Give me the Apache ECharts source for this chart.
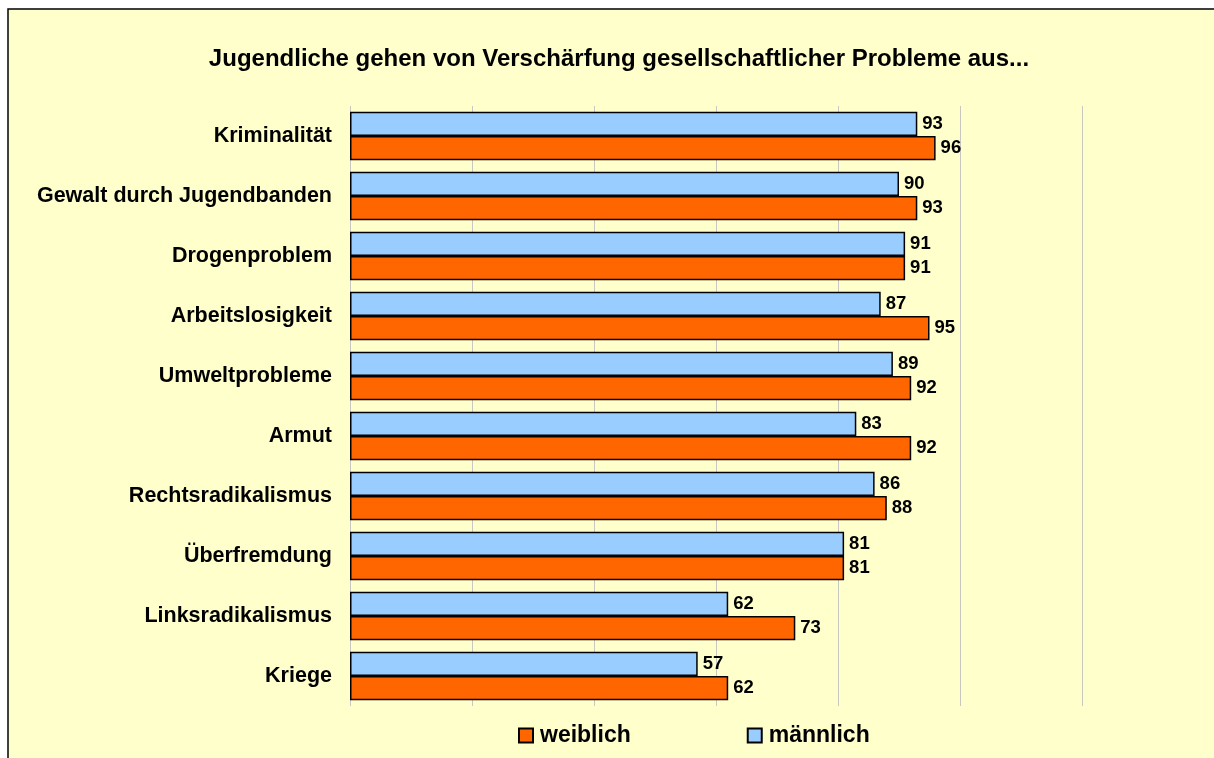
<!DOCTYPE html>
<html>
<head>
<meta charset="utf-8">
<script src="https://cdn.jsdelivr.net/npm/echarts@6/dist/echarts.min.js"></script>
<style>
  html, body { margin: 0; padding: 0; background: #fff; }
  #chart { width: 1214px; height: 758px; }
</style>
</head>
<body>
<div id="chart"></div>
<script>
const categories = ['Kriminalität', 'Gewalt durch Jugendbanden', 'Drogenproblem', 'Arbeitslosigkeit',
  'Umweltprobleme', 'Armut', 'Rechtsradikalismus', 'Überfremdung', 'Linksradikalismus', 'Kriege']
const weiblich = [96, 93, 91, 95, 92, 92, 88, 81, 73, 62]
const maennlich = [93, 90, 91, 87, 89, 83, 86, 81, 62, 57]

const font = '"Liberation Sans", Arial, sans-serif'
const chart = echarts.init(document.getElementById('chart'))

const labelStyle = {
  show: true,
  position: 'right',
  distance: 5,
  color: '#000',
  fontWeight: 'bold',
  fontSize: 18.5,
  fontFamily: font
}

chart.setOption({
  backgroundColor: '#fff',
  animation: false,
  graphic: [{
    type: 'rect',
    shape: { x: 8, y: 9, width: 1220, height: 760 },
    style: { fill: '#FFFFCC', stroke: '#000', lineWidth: 1.5 },
    z: -10
  }],
  title: {
    text: 'Jugendliche gehen von Verschärfung gesellschaftlicher Probleme aus...',
    left: 614,
    textAlign: 'center',
    top: 42,
    textStyle: { fontFamily: font, fontSize: 24, fontWeight: 'bold', color: '#000' }
  },
  legend: {
    data: ['weiblich', 'männlich'],
    left: 513,
    top: 719,
    itemWidth: 14,
    itemHeight: 14,
    itemGap: 116,
    icon: 'rect',
    textStyle: { fontFamily: font, fontSize: 23, fontWeight: 'bold', color: '#000', padding: [0, 0, 0, 2] }
  },
  grid: {
    left: 350,
    right: 132,
    top: 106,
    bottom: 52,
    containLabel: false
  },
  xAxis: {
    type: 'value',
    min: 0,
    max: 120,
    interval: 20,
    axisLabel: { show: false },
    axisLine: { show: false },
    axisTick: { show: false },
    splitLine: { show: true, lineStyle: { color: '#C8C8C0' } }
  },
  yAxis: {
    type: 'category',
    data: categories,
    inverse: true,
    axisLine: { show: false },
    axisTick: { show: false },
    axisLabel: {
      margin: 18,
      color: '#000',
      fontFamily: font,
      fontWeight: 'bold',
      fontSize: 21.5
    }
  },
  series: [
    {
      name: 'männlich',
      type: 'bar',
      data: maennlich,
      barGap: '0%',
      barCategoryGap: '19.5%',
      itemStyle: { color: '#99CCFF', borderColor: '#000', borderWidth: 1.5 },
      label: labelStyle
    },
    {
      name: 'weiblich',
      type: 'bar',
      data: weiblich,
      barGap: '0%',
      barCategoryGap: '19.5%',
      itemStyle: { color: '#FF6600', borderColor: '#000', borderWidth: 1.5 },
      label: labelStyle
    }
  ]
})
</script>
</body>
</html>
